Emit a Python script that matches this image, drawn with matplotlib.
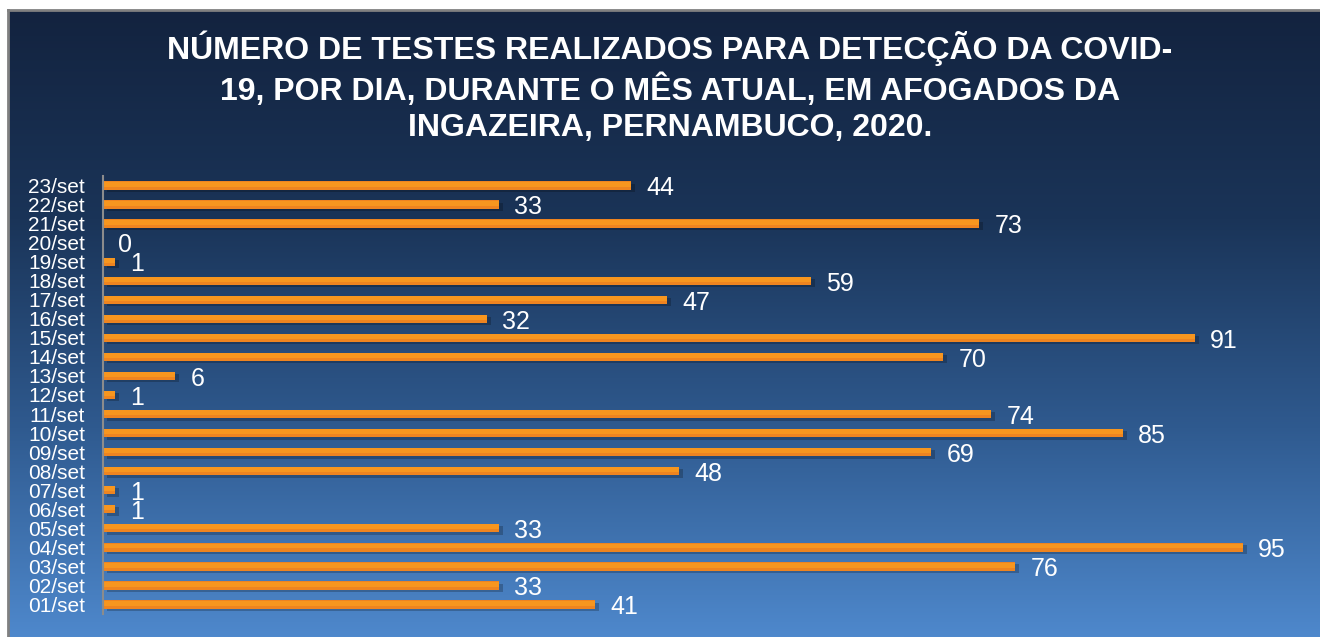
import numpy as np
import matplotlib.pyplot as plt
from matplotlib.colors import LinearSegmentedColormap

dias = ['01/set', '02/set', '03/set', '04/set', '05/set', '06/set', '07/set', '08/set',
        '09/set', '10/set', '11/set', '12/set', '13/set', '14/set', '15/set', '16/set',
        '17/set', '18/set', '19/set', '20/set', '21/set', '22/set', '23/set']
testes = [41, 33, 76, 95, 33, 1, 1, 48, 69, 85, 74, 1, 6, 70, 91, 32, 47, 59, 1, 0, 73, 33, 44]

titulo = ('NÚMERO DE TESTES REALIZADOS PARA DETECÇÃO DA COVID-\n'
          '19, POR DIA, DURANTE O MÊS ATUAL, EM AFOGADOS DA\n'
          'INGAZEIRA, PERNAMBUCO, 2020.')

plt.rcParams['font.family'] = ['Liberation Sans', 'DejaVu Sans']

W, H = 1320, 637
fig = plt.figure(figsize=(W / 100, H / 100), dpi=100)
fig.patch.set_facecolor('white')

# background panel with vertical gradient
bg = fig.add_axes([8 / W, 0, 1 - 8 / W, (H - 10) / H])
cmap = LinearSegmentedColormap.from_list('bg', ['#13233f', '#1a3458', '#2f5a8f', '#4e88cc'])
grad = np.linspace(0, 1, 256).reshape(-1, 1)
bg.imshow(grad, aspect='auto', cmap=cmap, extent=[0, 1, 0, 1], origin='upper')
bg.set_xlim(0, 1)
bg.set_ylim(0, 1)
bg.set_xticks([])
bg.set_yticks([])
for s in ['right', 'bottom']:
    bg.spines[s].set_visible(False)
for s in ['top', 'left']:
    bg.spines[s].set_color('#808080')
    bg.spines[s].set_linewidth(2)

fig.text(670 / W, 1 - 87 / H, titulo, ha='center', va='center', color='white',
         fontsize=23, fontweight='bold', linespacing=1.27)

ax = fig.add_axes([103 / W, 23 / H, 1200 / W, 438 / H])
ax.set_facecolor('none')
y = np.arange(len(dias))

# shadow then bars
ax.barh(y - 0.12, testes, height=0.44, color='black', alpha=0.22, left=0.3)
ax.barh(y, testes, height=0.44, color='#ee8420')
ax.barh(y + 0.07, testes, height=0.26, color='#f7961f')

for yi, v in zip(y, testes):
    ax.annotate(str(v), (v, yi), xytext=(11, -2), textcoords='offset points',
                ha='left', va='center', color='white', fontsize=18)

ax.set_xlim(0, 100)
ax.set_ylim(-0.5, len(dias) - 0.5)
ax.set_yticks(y)
ax.set_yticklabels(dias, color='white', fontsize=15)
ax.tick_params(axis='y', length=0, pad=13)
ax.set_xticks([])
for s in ['top', 'right', 'bottom']:
    ax.spines[s].set_visible(False)
ax.spines['left'].set_color('#8c8c8c')
ax.spines['left'].set_linewidth(1.5)

fig.savefig('out.png', dpi=100)
